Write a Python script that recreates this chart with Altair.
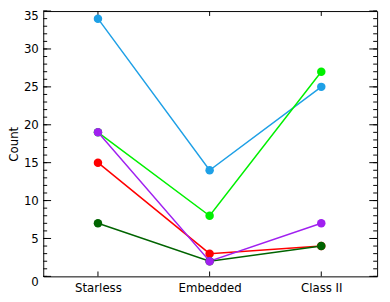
import json
import altair as alt
import pandas as pd

categories = ["Starless", "Embedded", "Class II"]
series_names = ["s1", "s2", "s3", "s4", "s5"]
series_colors = ["#1ea0e6", "#00f000", "#ff0000", "#006400", "#a020f0"]
s1 = [34, 14, 25]
s2 = [19, 8, 27]
s3 = [15, 3, 4]
s4 = [7, 2, 4]
s5 = [19, 2, 7]
y_major = [0, 5, 10, 15, 20, 25, 30, 35]
y_minor = list(range(0, 36))

W, H = 341, 271

rows = []
for name, vals in zip(series_names, [s1, s2, s3, s4, s5]):
    for i, v in enumerate(vals):
        rows.append({"series": name, "xi": i, "cat": categories[i], "count": v})
df = pd.DataFrame(rows)

xscale = alt.Scale(domain=[-0.49, 2.5], nice=False, zero=False)
yscale = alt.Scale(domain=[0, 35], nice=False, zero=False)
cscale = alt.Scale(domain=series_names, range=series_colors)

label_expr = json.dumps(categories) + "[datum.value]"

xaxis = alt.Axis(values=[0, 1, 2], labelExpr=label_expr, ticks=False,
                 tickSize=0, domain=False, grid=False, labelPadding=6,
                 labelFont="DejaVu Sans", labelFontSize=12, labelColor="black")
yaxis = alt.Axis(values=y_major, ticks=False, tickSize=0, domain=False, grid=False,
                 labelPadding=5, labelFont="DejaVu Sans", labelFontSize=12,
                 labelBaseline=alt.ExprRef(expr="datum.value == 0 || datum.value == 35 ? 'top' : 'middle'"),
                 labelColor="black", titleFont="DejaVu Sans", titleFontSize=12,
                 titleFontWeight="normal", titleColor="black", titlePadding=3)

def X(f):
    return alt.X(f, scale=xscale, title=None, axis=xaxis)

def Y(f):
    return alt.Y(f, scale=yscale, title="Count", axis=yaxis)

base = alt.Chart(df)
lines = base.mark_line(strokeWidth=1.5).encode(
    x=X("xi:Q"), y=Y("count:Q"),
    color=alt.Color("series:N", scale=cscale, legend=None),
    order=alt.Order("xi:Q"),
)
points = base.mark_point(filled=True, opacity=1, size=75).encode(
    x=X("xi:Q"), y=Y("count:Q"),
    color=alt.Color("series:N", scale=cscale, legend=None),
)

ymaj = alt.Chart(pd.DataFrame({"t": y_major}))
ymin = alt.Chart(pd.DataFrame({"t": y_minor}))
xt = alt.Chart(pd.DataFrame({"t": [0, 1, 2]}))

def yrule(src, x0, x1):
    return src.mark_rule(color="black", strokeWidth=1).encode(
        y=Y("t:Q"), x=alt.value(x0), x2=alt.value(x1))

def xrule(src, y0, y1):
    return src.mark_rule(color="black", strokeWidth=1).encode(
        x=X("t:Q"), y=alt.value(y0), y2=alt.value(y1))

ticks = [
    yrule(ymaj, 0, 8), yrule(ymaj, W - 8, W),
    yrule(ymin, 0, 4), yrule(ymin, W - 4, W),
    xrule(xt, 0, 5), xrule(xt, H - 5, H),
]

chart = alt.layer(*ticks, lines, points).properties(
    width=W, height=H,
    autosize=alt.AutoSizeParams(type="none"),
    padding={"left": 36, "top": 0, "right": 5, "bottom": 21},
).configure_view(stroke="black", strokeWidth=1)

chart.save("out.html", embed_options={"renderer": "svg", "actions": False})
